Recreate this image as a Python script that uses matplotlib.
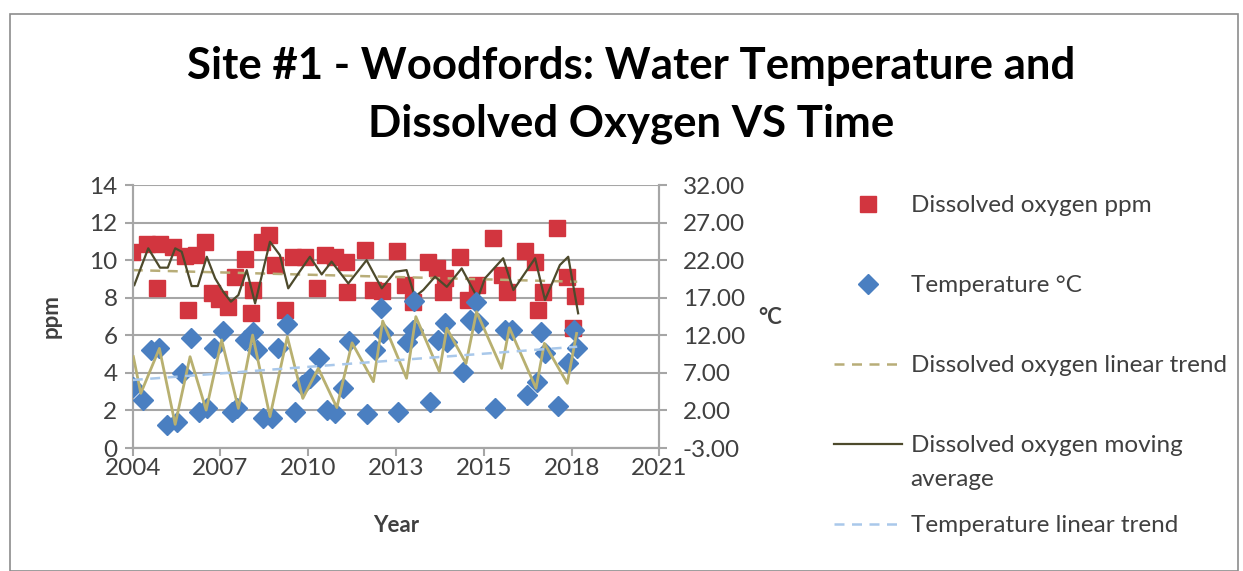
import matplotlib.pyplot as plt
from matplotlib.patches import Rectangle

plt.rcParams['font.family'] = ['Lato', 'DejaVu Sans']

# dissolved oxygen samples (decimal year, ppm)
do_year = [2004.47, 2004.95, 2005.27, 2005.38, 2005.81, 2006.19, 2006.29, 2006.54, 2006.83,
           2007.05, 2007.30, 2007.59, 2007.80, 2008.12, 2008.31, 2008.39, 2008.66, 2008.91,
           2009.09, 2009.42, 2009.68, 2010.06, 2010.44, 2010.71, 2011.03, 2011.39, 2011.41,
           2012.00, 2012.27, 2012.54, 2013.02, 2013.29, 2013.56, 2014.04, 2014.31, 2014.53,
           2014.58, 2015.06, 2015.33, 2015.60, 2016.12, 2016.41, 2016.57, 2017.16, 2017.49,
           2017.59, 2017.73, 2018.19, 2018.51, 2018.70, 2018.78]
do_ppm = [10.45, 10.84, 8.5, 10.84, 10.71, 10.2, 7.34, 10.27, 10.98,
          8.23, 7.95, 7.5, 9.1, 10.05, 7.17, 8.4, 10.98, 11.34,
          9.74, 7.34, 10.18, 10.18, 8.5, 10.3, 10.18, 9.9, 8.3,
          10.54, 8.4, 8.35, 10.48, 8.67, 7.75, 9.9, 9.56, 8.32,
          9.03, 10.18, 7.88, 8.67, 11.19, 9.2, 8.32, 10.48, 9.9,
          7.34, 8.32, 11.73, 9.12, 6.4, 8.1]

# water temperature samples (decimal year, deg C)
temp_year = [2004.52, 2004.84, 2005.08, 2005.36, 2005.60, 2005.92, 2006.08, 2006.37, 2006.64,
             2006.89, 2007.13, 2007.42, 2007.70, 2007.86, 2008.12, 2008.39, 2008.50, 2008.72,
             2008.99, 2009.20, 2009.47, 2009.74, 2009.96, 2010.22, 2010.52, 2010.76, 2011.03,
             2011.30, 2011.48, 2012.05, 2012.32, 2012.51, 2012.59, 2013.07, 2013.34, 2013.56,
             2013.58, 2014.10, 2014.36, 2014.58, 2014.64, 2015.15, 2015.39, 2015.58, 2015.66,
             2016.19, 2016.52, 2016.73, 2017.22, 2017.54, 2017.67, 2017.81, 2018.24, 2018.56,
             2018.74, 2018.85]
temp_c = [5.15, 3.38, 10.05, 10.25, 0.05, 0.5, 6.93, 11.68, 1.83,
          2.28, 10.25, 12.58, 1.83, 2.28, 11.38, 12.48, 10.05, 0.95,
          0.95, 10.35, 13.45, 1.75, 5.38, 6.28, 9.03, 2.05, 1.63,
          4.95, 11.25, 1.48, 10.05, 15.68, 12.25, 1.75, 11.15, 12.7,
          16.55, 3.15, 11.38, 13.6, 11.15, 7.15, 14.03, 16.38, 13.6,
          2.38, 12.7, 12.7, 4.05, 5.83, 12.48, 9.6, 2.63, 8.28,
          12.7, 10.25]

# trendlines as drawn in the source chart
do_ma_year = [2004.55, 2005.00, 2005.38, 2005.63, 2005.87, 2006.08, 2006.40, 2006.60, 2006.89,
              2007.16, 2007.42, 2007.67, 2007.91, 2008.18, 2008.45, 2008.93, 2009.25, 2009.52,
              2009.85, 2010.22, 2010.60, 2010.92, 2011.46, 2012.05, 2012.54, 2012.97, 2013.34,
              2013.61, 2013.88, 2014.26, 2014.64, 2015.12, 2015.64, 2015.87, 2016.46, 2016.79,
              2017.49, 2017.81, 2018.29, 2018.56, 2018.88]
do_ma = [8.67, 10.63, 9.6, 9.6, 10.63, 10.45, 8.62, 8.62, 10.18,
         9.03, 8.32, 7.79, 8.14, 9.47, 7.7, 10.98, 10.27, 8.5,
         9.3, 10.18, 9.24, 9.92, 8.76, 10.0, 8.5, 9.38, 9.47,
         8.05, 8.41, 9.12, 8.58, 9.56, 7.97, 9.03, 10.1, 8.41,
         10.1, 7.88, 9.74, 10.18, 7.17]
temp_ma_year = [2004.52, 2004.76, 2005.36, 2005.87, 2006.35, 2006.87, 2007.37, 2007.91, 2008.37,
                2008.93, 2009.49, 2009.99, 2010.49, 2011.09, 2011.58, 2012.27, 2012.57, 2013.34,
                2013.64, 2014.40, 2014.64, 2015.26, 2015.60, 2016.41, 2016.66, 2017.52, 2017.79,
                2018.53, 2018.83]
temp_ma = [9.15, 4.28, 10.25, 0.15, 9.15, 2.05, 11.38, 2.28, 12.03,
           1.18, 11.8, 3.6, 7.6, 2.38, 11.0, 5.83, 13.9, 6.28,
           14.48, 7.15, 12.93, 8.25, 15.13, 7.6, 13.0, 4.95, 10.93,
           5.6, 12.25]
trend_year = [2004.5, 2018.85]
do_trend = [9.47, 8.85]
temp_trend = [6.05, 10.48]

year_ticks = [2004.5, 2007.33, 2010.17, 2013.0, 2015.83, 2018.67, 2021.5]
year_labels = ['2004', '2007', '2010', '2013', '2015', '2018', '2021']
temp_ticks = [-3, 2, 7, 12, 17, 22, 27, 32]

red = '#d2353f'
blue = '#4a7fc1'
grey = '#a6a6a6'
txt = '#404040'
fs = 17.5

fig = plt.figure(figsize=(12.43, 5.71), dpi=100)
ax = fig.add_axes([0.1068, 0.2154, 0.4236, 0.4606])
ax2 = ax.twinx()

ax.plot(do_year, do_ppm, 's', color=red, ms=12, mec=red, zorder=3, label='Dissolved oxygen ppm')
ax.plot(trend_year, do_trend, '--', color='#b8ad78', lw=1.8, dashes=(4, 3), zorder=4,
        label='Dissolved oxygen linear trend')
ax.plot(do_ma_year, do_ma, '-', color='#4d4a2c', lw=1.6, zorder=5,
        label='Dissolved oxygen moving')

ax2.plot(temp_year, temp_c, 'D', color=blue, ms=10.5, mec=blue, zorder=3, label='Temperature \u00b0C')
ax2.plot(temp_ma_year, temp_ma, '-', color='#b8b070', lw=2.0, zorder=4)
ax2.plot(trend_year, temp_trend, '--', color='#a9c8ea', lw=1.8, dashes=(4, 3), zorder=5,
         label='Temperature linear trend')

ax.set_xlim(2004.5, 2021.5)
ax.set_ylim(0, 14)
ax2.set_ylim(-3, 32)
ax.set_xticks(year_ticks)
ax.set_xticklabels(year_labels)
ax.set_yticks(range(0, 15, 2))
ax2.set_yticks(temp_ticks)
ax2.set_yticklabels([f'{v:.2f}' for v in temp_ticks])

ax.grid(axis='y', color=grey, lw=1.5)
ax.set_axisbelow(True)
for a in (ax, ax2):
    a.spines['top'].set_visible(False)
    for s in ('left', 'right', 'bottom'):
        a.spines[s].set_color(grey)
        a.spines[s].set_linewidth(1.5)
ax.tick_params(axis='both', colors=grey, width=1.5, length=6, labelcolor=txt, labelsize=fs)
ax.tick_params(axis='x', pad=1.5)
ax.tick_params(axis='y', pad=5)
ax2.tick_params(axis='y', colors=grey, width=1.5, length=6, labelcolor=txt, labelsize=fs, pad=11)

ax.set_xlabel('Year', fontsize=16, fontweight='bold', color=txt)
ax.xaxis.set_label_coords(0.5, -(515 - 448) / 263)
ax.set_ylabel('ppm', fontsize=16, fontweight='bold', color=txt)
ax.yaxis.set_label_coords(-(133 - 62) / 526.6, 0.5)
fig.text(770 / 1243, 1 - 318 / 571, '\u00b0C', fontsize=16, fontweight='bold', color=txt,
         ha='center', va='center')

fig.text(631 / 1243, 1 - 95 / 571,
         'Site #1 - Woodfords: Water Temperature and\nDissolved Oxygen VS Time',
         fontsize=31.5, fontweight='bold', ha='center', va='center', linespacing=1.55)

h1, l1 = ax.get_legend_handles_labels()
h2, l2 = ax2.get_legend_handles_labels()
handles = [h1[0], h2[0], h1[1], h1[2], h2[1]]
labels = [l1[0], l2[0], l1[1], l1[2], l2[1]]
leg = fig.legend(handles, labels, loc='upper left', bbox_to_anchor=(834 / 1243, 1 - 195 / 571),
                 frameon=False, fontsize=fs, labelcolor=txt, handlelength=2.8, handletextpad=0.35,
                 labelspacing=2.43, borderaxespad=0, borderpad=0)

# second line of the wrapped legend entry
fig.canvas.draw()
ext = leg.get_texts()[3].get_window_extent()
fig.text(ext.x0 / 1243, ((ext.y0 + ext.y1) / 2 - 34) / 571, 'average', fontsize=fs, color=txt,
         ha='left', va='center')

fig.patches.append(Rectangle((10 / 1243, 0), 1228 / 1243, 1 - 14 / 571, transform=fig.transFigure,
                             fill=False, edgecolor='#8c8c8c', lw=1.2))

fig.savefig('out.png', dpi=100)
